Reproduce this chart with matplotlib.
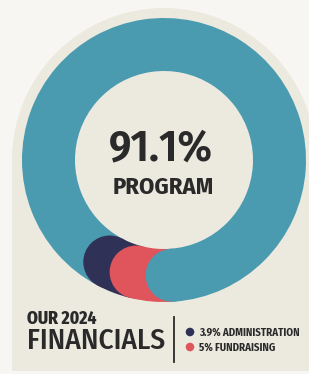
import matplotlib.pyplot as plt
from matplotlib.patches import Circle, Rectangle
import numpy as np

# data
labels = ['Administration', 'Fundraising', 'Program']
shares = [3.9, 5.0, 91.1]
colors = ['#2f3157', '#e0545c', '#4a9bb0']
legend_text = ['3.9% ADMINISTRATION', '5% FUNDRAISING']

W, H = 309, 374
cx, cy = 164, 214
R, ring = 142, 53

fig = plt.figure(figsize=(W / 100, H / 100), dpi=100, facecolor='#f7f6f2')
ax = fig.add_axes([0, 0, 1, 1])

# cream card with arched top
card = '#ece9df'
ax.add_patch(Circle((cx, cy), 152, facecolor=card, edgecolor='none', zorder=0))
ax.add_patch(Rectangle((12, 3), 320, cy - 3, facecolor=card, edgecolor='none', zorder=0))

wedges, _ = ax.pie(shares, colors=colors, startangle=242, counterclock=True,
                   center=(cx, cy), radius=R,
                   wedgeprops=dict(width=ring, linewidth=0))

# rounded caps at the start of each segment, each one on top of the previous
for i, w in enumerate(wedges):
    w.set_zorder(1)
    t = np.deg2rad(w.theta1)
    rm = w.r - w.width / 2
    ax.add_patch(Circle((cx + rm * np.cos(t), cy + rm * np.sin(t)), w.width / 2,
                        facecolor=w.get_facecolor(), edgecolor='none', zorder=2 + i))

ink = '#2a2a2a'
cond = ['Fira Sans Condensed', 'DejaVu Sans']
ax.text(161, 225, '91.1%', ha='center', va='center', fontsize=32,
        fontweight='semibold', family=cond, color=ink, zorder=10)
ax.text(163.5, 187, 'PROGRAM', ha='center', va='center', fontsize=17.5,
        fontweight='bold', family=cond, color=ink, zorder=10)

# heading: two lines, cap-height aligned so the boxes do not touch
ax.text(27, 50, 'OUR 2024', ha='left', va='baseline', fontsize=12.5,
        fontweight='heavy', family=cond, color=ink)
ax.text(27, 25, 'FINANCIALS', ha='left', va='top', fontsize=21,
        fontweight='medium', family=cond, color=ink,
        transform=ax.transData).set_va('baseline')

ax.plot([174, 174], [12, 57], color=ink, lw=1.3)

for j, (txt, col) in enumerate(zip(legend_text, colors[:2])):
    y = 42 - 15 * j
    ax.add_patch(Circle((190, y), 4.3, facecolor=col, edgecolor='none'))
    ax.text(199, y - 3.7, txt, ha='left', va='baseline', fontsize=7.8,
            fontweight='bold', family=cond, color=ink)

ax.set_xlim(0, W)
ax.set_ylim(0, H)
ax.set_aspect('equal')
ax.axis('off')

plt.savefig('out.png', dpi=100, facecolor=fig.get_facecolor())
